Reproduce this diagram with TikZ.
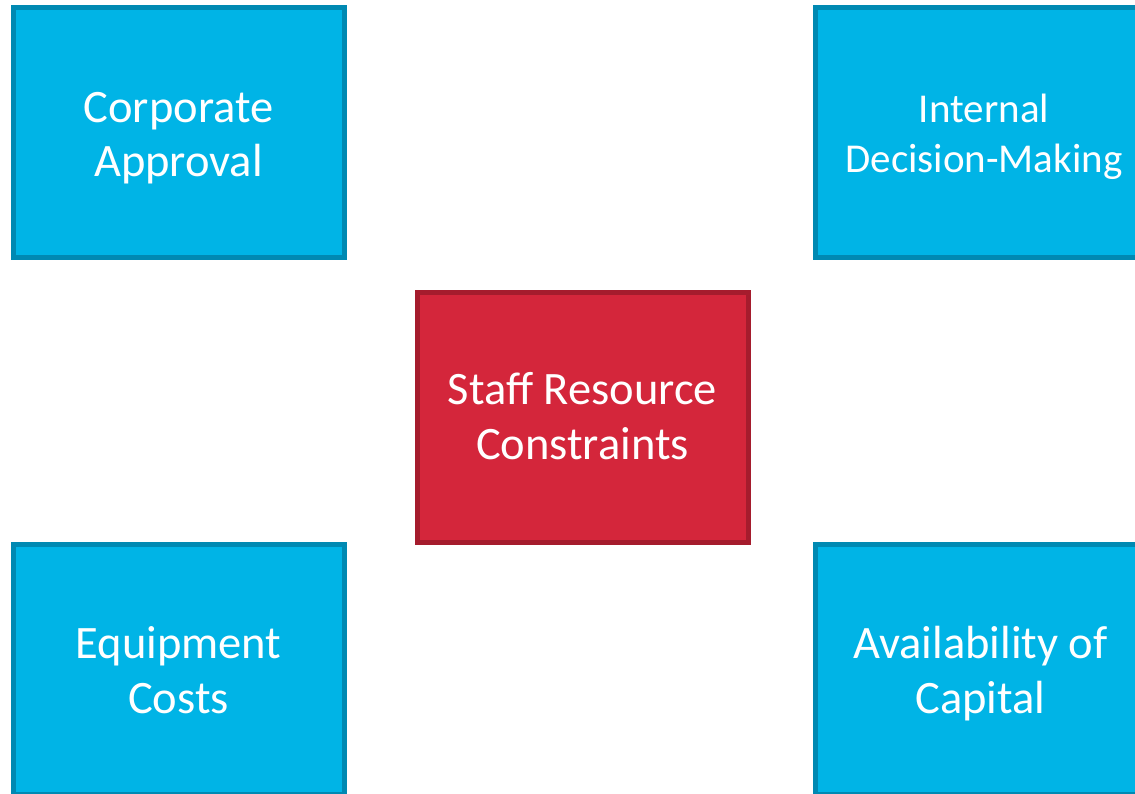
\documentclass[tikz,border=0pt]{standalone}
\usepackage{fontspec}
\setmainfont{Carlito}
\definecolor{bluefill}{HTML}{00B4E6}
\definecolor{blueline}{HTML}{0089B2}
\definecolor{redfill}{HTML}{D4263B}
\definecolor{redline}{HTML}{A51C2D}
\newcommand{\topstrut}{\rule{0pt}{40pt}}
\newcommand{\botstrut}{\rule[-40pt]{0pt}{40pt}}
\begin{document}
\begin{tikzpicture}[x=1pt,y=-1pt,
  box/.style={rectangle, line width=5pt, minimum width=331pt, minimum height=250pt, inner sep=0pt},
  bluebox/.style={box, fill=bluefill, draw=blueline},
  redbox/.style={box, fill=redfill, draw=redline},
  lbl/.style={inner sep=0pt, align=center, text=white, font=\fontsize{46.5}{54.5}\selectfont},
  smalllbl/.style={lbl, font=\fontsize{41}{50}\selectfont}]
\useasboundingbox (0,0) rectangle (1135,793);
\node[bluebox] (ca) at (178.5,132) {};
\node[bluebox] (idm) at (980.5,132) {};
\node[redbox] (src) at (583,417.5) {};
\node[bluebox] (ec) at (178.5,669) {};
\node[bluebox] (ac) at (980.5,669) {};
\node[lbl] (ca-t) at (178.5,149.7) {\topstrut Corporate\\Approval\botstrut};
\node[smalllbl] (idm-t) at (984,147.3) {\topstrut Internal\\Decision-Making\botstrut};
\node[lbl] (src-t) at (582.5,432.2) {\topstrut Staff Resource\\Constraints\botstrut};
\node[lbl] (ec-t) at (178.5,685.8) {\topstrut Equipment\\Costs\botstrut};
\node[lbl] (ac-t) at (980.5,685.8) {\topstrut Availability of\\Capital\botstrut};
\end{tikzpicture}
\end{document}
